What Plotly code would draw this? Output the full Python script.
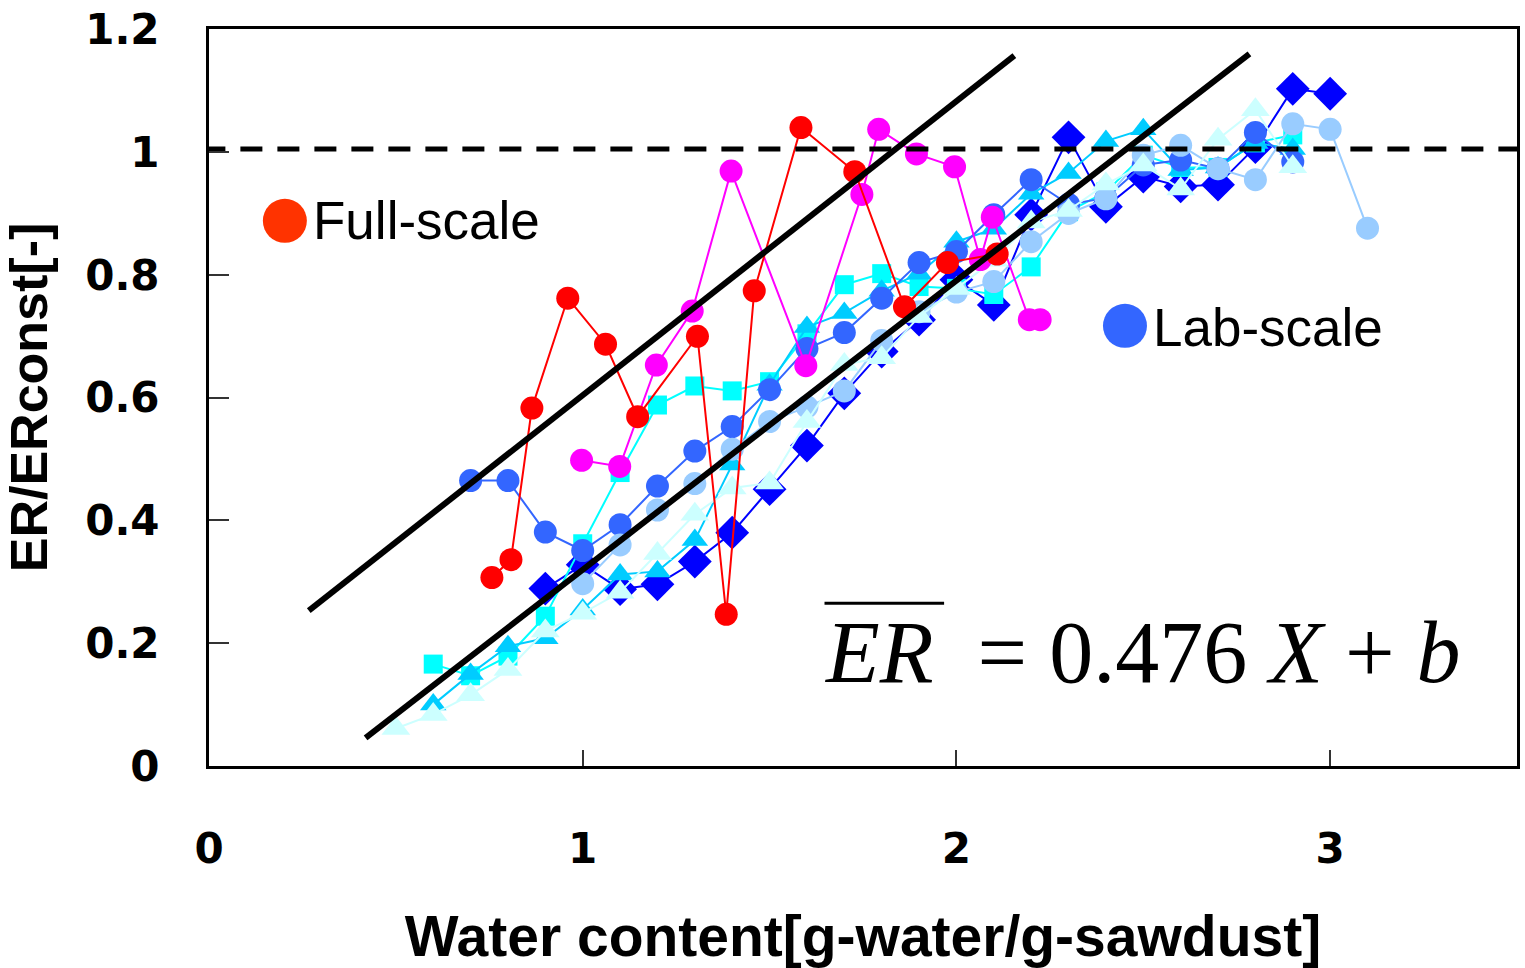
import plotly.graph_objects as go

# ---------------- data ----------------
full_red_x = [0.757, 0.808, 0.864, 0.960, 1.061, 1.147, 1.307, 1.384, 1.459, 1.584, 1.728, 1.861, 1.976, 2.109]
full_red_y = [0.307, 0.336, 0.583, 0.762, 0.687, 0.569, 0.700, 0.247, 0.774, 1.040, 0.968, 0.748, 0.820, 0.834]

full_mag_x = [0.997, 1.099, 1.197, 1.293, 1.397, 1.597, 1.747, 1.792, 1.893, 1.995, 2.064, 2.096, 2.195, 2.224]
full_mag_y = [0.498, 0.488, 0.653, 0.741, 0.969, 0.652, 0.931, 1.037, 0.997, 0.976, 0.825, 0.894, 0.727, 0.727]

lab_diamond_x = [0.9, 1.0, 1.1, 1.2, 1.3, 1.4, 1.5, 1.6, 1.7, 1.8, 1.9, 2.0, 2.1, 2.2, 2.3, 2.4, 2.5, 2.6, 2.7, 2.8, 2.9, 3.0]
lab_diamond_y = [0.289, 0.328, 0.288, 0.296, 0.333, 0.380, 0.451, 0.522, 0.607, 0.675, 0.727, 0.792, 0.751, 0.898,
                 1.024, 0.911, 0.960, 0.944, 0.947, 1.008, 1.103, 1.095]

lab_square_x = [0.6, 0.7, 0.8, 0.9, 1.0, 1.1, 1.2, 1.3, 1.4, 1.5, 1.6, 1.7, 1.8, 1.9, 2.0, 2.1, 2.2, 2.3, 2.4, 2.5, 2.6, 2.7, 2.8, 2.9]
lab_square_y = [0.166, 0.147, 0.179, 0.244, 0.362, 0.478, 0.588, 0.619, 0.611, 0.626, 0.704, 0.784, 0.802, 0.781,
                0.778, 0.768, 0.813, 0.903, 0.935, 0.995, 0.975, 0.975, 1.015, 1.028]

lab_tri_x = [0.6, 0.7, 0.8, 0.9, 1.0, 1.1, 1.2, 1.3, 1.4, 1.5, 1.6, 1.7, 1.8, 1.9, 2.0, 2.1, 2.2, 2.3, 2.4, 2.5, 2.6, 2.7, 2.8, 2.9]
lab_tri_y = [0.100, 0.150, 0.195, 0.208, 0.255, 0.312, 0.317, 0.368, 0.491, 0.621, 0.715, 0.738, 0.774, 0.802,
             0.854, 0.875, 0.932, 0.966, 1.018, 1.037, 0.971, 0.975, 1.015, 1.005]

lab_royal_x = [0.7, 0.8, 0.9, 1.0, 1.1, 1.2, 1.3, 1.4, 1.5, 1.6, 1.7, 1.8, 1.9, 2.0, 2.1, 2.2, 2.3, 2.4, 2.5, 2.6, 2.7, 2.8, 2.9]
lab_royal_y = [0.465, 0.465, 0.381, 0.351, 0.393, 0.456, 0.513, 0.553, 0.613, 0.680, 0.706, 0.762, 0.820, 0.838,
               0.898, 0.955, 0.915, 0.925, 0.979, 0.987, 0.973, 1.032, 0.984]

lab_light_x = [1.0, 1.1, 1.2, 1.3, 1.4, 1.5, 1.6, 1.7, 1.8, 1.9, 2.0, 2.1, 2.2, 2.3, 2.4, 2.5, 2.6, 2.7, 2.8, 2.9, 3.0, 3.1]
lab_light_y = [0.297, 0.360, 0.417, 0.460, 0.516, 0.561, 0.585, 0.611, 0.693, 0.740, 0.772, 0.789, 0.854, 0.900,
               0.924, 0.995, 1.011, 0.973, 0.955, 1.046, 1.037, 0.876]

lab_pale_x = [0.5, 0.6, 0.7, 0.8, 0.9, 1.0, 1.1, 1.2, 1.3, 1.4, 1.5, 1.6, 1.7, 1.8, 1.9, 2.0, 2.1, 2.2, 2.3, 2.4, 2.5, 2.6, 2.7, 2.8, 2.9]
lab_pale_y = [0.061, 0.084, 0.116, 0.157, 0.220, 0.249, 0.283, 0.346, 0.410, 0.453, 0.461, 0.561, 0.654, 0.665,
              0.732, 0.778, 0.824, 0.886, 0.905, 0.948, 0.979, 0.940, 1.021, 1.069, 0.976]

fit_upper_x = [0.267, 2.155]
fit_upper_y = [0.253, 1.157]
fit_lower_x = [0.419, 2.784]
fit_lower_y = [0.046, 1.160]

ref_x = [-0.015, 3.5]
ref_y = [1.005, 1.005]

x_ticks = [0, 1, 2, 3]
y_ticks = [0, 0.2, 0.4, 0.6, 0.8, 1.0, 1.2]
y_tick_text = ["0", "0.2", "0.4", "0.6", "0.8", "1", "1.2"]

x_title = "Water content[g-water/g-sawdust]"
y_title = "ER/ERconst[-]"

# ---------------- figure ----------------
fig = go.Figure()

def series(x, y, color, symbol, size, lw=2):
    fig.add_trace(go.Scatter(
        x=x, y=y, mode="lines+markers",
        line=dict(color=color, width=lw),
        marker=dict(color=color, symbol=symbol, size=size, line=dict(width=0)),
        showlegend=False, hoverinfo="skip"))

series(lab_diamond_x, lab_diamond_y, "#0000FF", "diamond", 26)
series(lab_square_x, lab_square_y, "#00FFFF", "square", 19)
series(lab_tri_x, lab_tri_y, "#00CCFF", "triangle-up", 23)
series(lab_royal_x, lab_royal_y, "#3366FF", "circle", 23)
series(lab_light_x, lab_light_y, "#99CCFF", "circle", 23)
series(lab_pale_x, lab_pale_y, "#CCFFFF", "triangle-up", 25)
series(full_mag_x, full_mag_y, "#FF00FF", "circle", 23)
series(full_red_x, full_red_y, "#FF0000", "circle", 23)

fig.add_trace(go.Scatter(x=fit_upper_x, y=fit_upper_y, mode="lines",
                         line=dict(color="black", width=6), showlegend=False, hoverinfo="skip"))
fig.add_trace(go.Scatter(x=fit_lower_x, y=fit_lower_y, mode="lines",
                         line=dict(color="black", width=6), showlegend=False, hoverinfo="skip"))
fig.add_trace(go.Scatter(x=ref_x, y=ref_y, mode="lines",
                         line=dict(color="black", width=5, dash="22px,15px"),
                         showlegend=False, hoverinfo="skip", cliponaxis=False))

# legend-like labels
fig.add_shape(type="circle", xref="x", yref="y", xsizemode="pixel", ysizemode="pixel",
              xanchor=0.203, yanchor=0.888, x0=-22, x1=22, y0=-22, y1=22,
              fillcolor="#FF3300", line=dict(width=0))
fig.add_annotation(x=0.272, y=0.888, xref="x", yref="y", text="Full-scale", showarrow=False,
                   xanchor="left", yanchor="middle",
                   font=dict(family="Liberation Sans, Arial", size=53, color="black"))
fig.add_shape(type="circle", xref="x", yref="y", xsizemode="pixel", ysizemode="pixel",
              xanchor=2.451, yanchor=0.717, x0=-22, x1=22, y0=-22, y1=22,
              fillcolor="#3366FF", line=dict(width=0))
fig.add_annotation(x=2.520, y=0.714, xref="x", yref="y", text="Lab-scale", showarrow=False,
                   xanchor="left", yanchor="middle",
                   font=dict(family="Liberation Sans, Arial", size=53, color="black"))

# formula
fig.add_annotation(x=1.640, y=0.185, xref="x", yref="y",
                   text="<i>ER</i>&nbsp; = 0.476 <i>X</i>&nbsp;+ <i>b</i>", showarrow=False,
                   xanchor="left", yanchor="middle",
                   font=dict(family="Liberation Serif, Times New Roman", size=88, color="black"))
fig.add_shape(type="line", xref="x", yref="y", x0=1.647, x1=1.967, y0=0.265, y1=0.265,
              line=dict(color="black", width=3))

axis_font = dict(family="DejaVu Sans", size=42, color="black", weight="bold")

fig.update_layout(
    width=1525, height=968,
    margin=dict(l=209, r=5, t=25, b=202),
    paper_bgcolor="white", plot_bgcolor="white",
    xaxis=dict(range=[0, 3.5], tickvals=x_ticks, ticks="inside", ticklen=16, tickwidth=1.5,
               tickcolor="#333333", showgrid=False, zeroline=False,
               showline=True, linecolor="black", linewidth=3, mirror=True,
               tickfont=axis_font, ticklabelstandoff=44,
               title=dict(text=x_title, standoff=45,
                          font=dict(family="Liberation Sans, Arial", size=57, color="black", weight="bold"))),
    yaxis=dict(range=[0, 1.2005], tickvals=y_ticks, ticktext=y_tick_text, ticks="inside", ticklen=20,
               tickwidth=1.5, tickcolor="#333333", showgrid=False, zeroline=False,
               showline=True, linecolor="black", linewidth=3, mirror=True,
               tickfont=axis_font, ticklabelstandoff=38,
               title=dict(text=y_title, standoff=34,
                          font=dict(family="Liberation Sans, Arial", size=52, color="black", weight="bold"))),
)

fig.write_html("out.html")
